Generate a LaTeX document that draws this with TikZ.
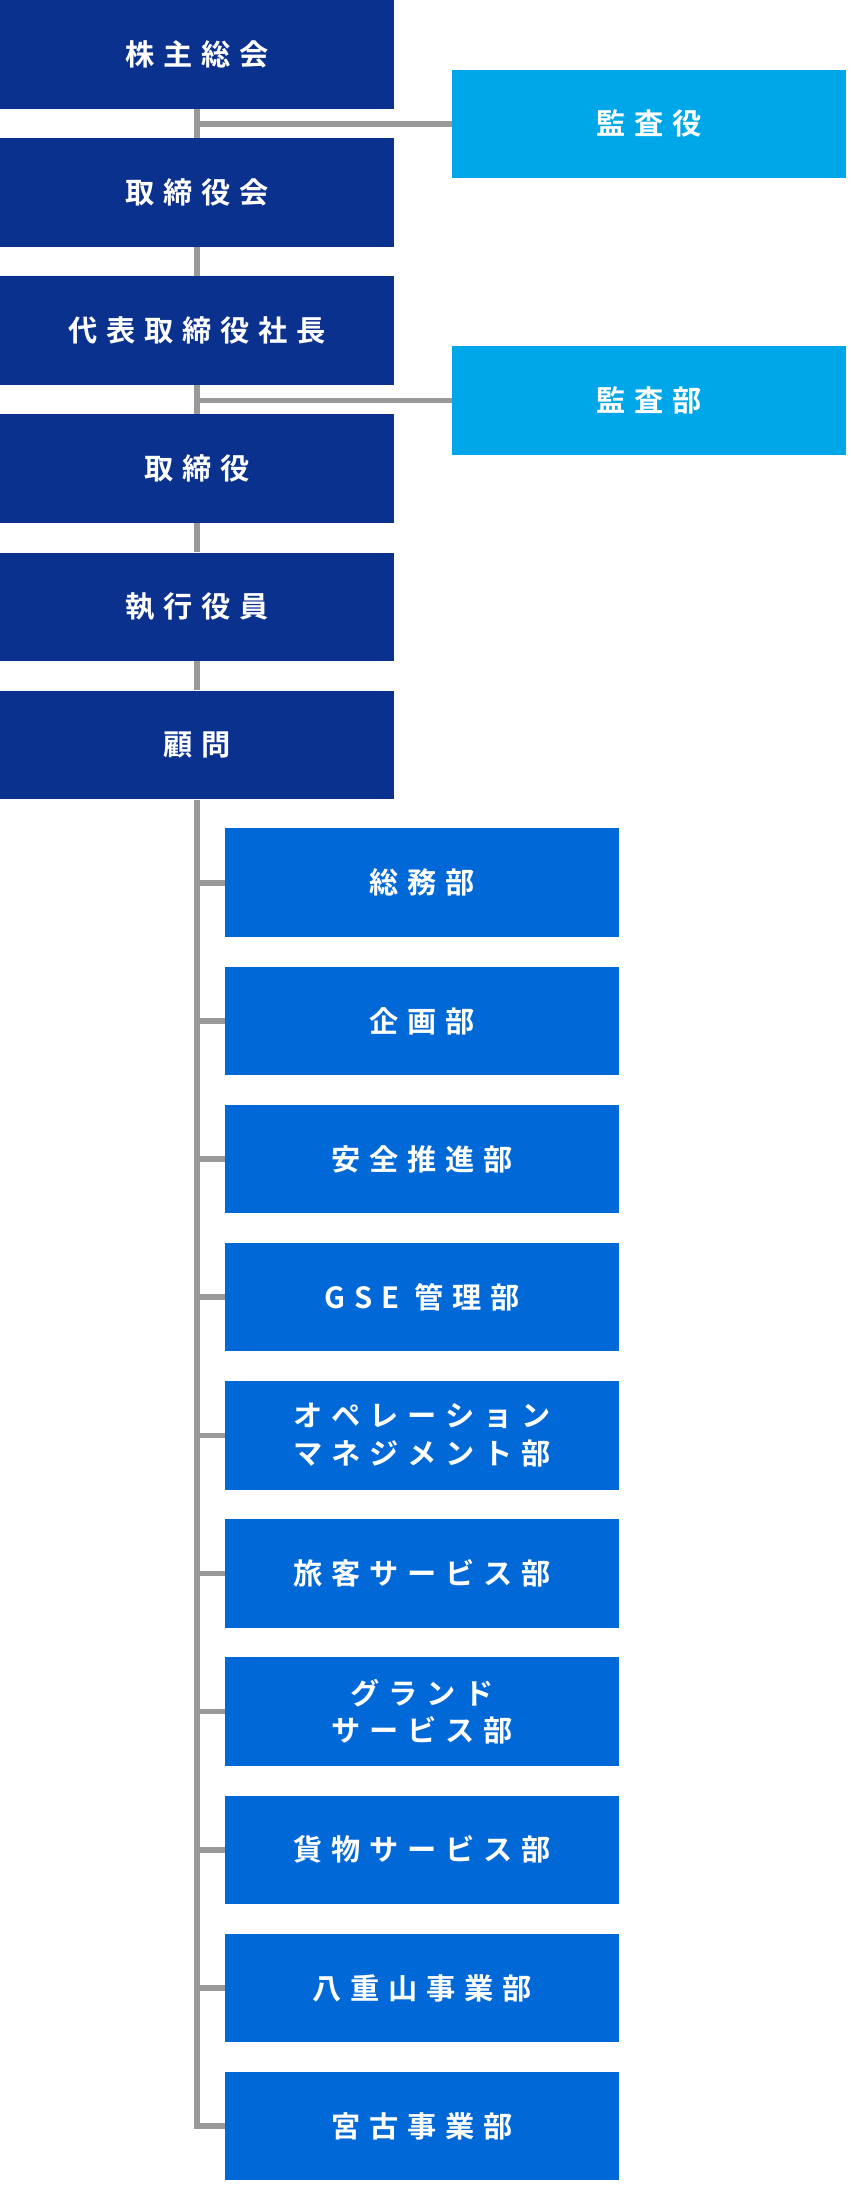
\documentclass[tikz,border=0pt]{standalone}
\usepackage{fontspec}
\newfontfamily\cjk[LetterSpace=30]{Noto Sans CJK JP Bold}
\usepackage{tikz}
\definecolor{boardblue}{HTML}{0B318F}
\definecolor{auditblue}{HTML}{00A7E8}
\definecolor{deptblue}{HTML}{0068D7}
\definecolor{linegray}{HTML}{999999}
\begin{document}
\begin{tikzpicture}[x=1pt,y=-1pt]
   \tikzstyle{every node}=[font=\cjk\fontsize{21}{27}\selectfont,text=white,align=center,inner sep=0pt,minimum width=283pt,minimum height=78pt]
   \tikzstyle{board}=[fill=boardblue]
   \tikzstyle{audit}=[fill=auditblue]
   \tikzstyle{dept}=[fill=deptblue]
   \tikzstyle{link}=[draw=linegray,line width=4pt]
   \useasboundingbox (0,0) rectangle (611,1572);
   %%
   \begin{scope}
      \node[board](GM) at (141.5,39) {株主総会};
      \node[board](BD) at (141.5,138.3) {取締役会};
      \node[board](PR) at (141.5,237.6) {代表取締役社長};
      \node[board](DR) at (141.5,336.9) {取締役};
      \node[board](EO) at (141.5,436.2) {執行役員};
      \node[board](AD) at (141.5,535.5) {顧問};
      \node[audit](AU) at (466.5,89) {監査役};
      \node[audit](AR) at (466.5,288) {監査部};
   \end{scope}
   %%
   \begin{scope}
      \node[dept](D1) at (303.5,634.5) {総務部};
      \node[dept](D2) at (303.5,733.8) {企画部};
      \node[dept](D3) at (303.5,833.1) {安全推進部};
      \node[dept](D4) at (303.5,932.4) {GSE 管理部};
      \node[dept](D5) at (303.5,1031.7) {オペレーション\\マネジメント部};
      \node[dept](D6) at (303.5,1131) {旅客サービス部};
      \node[dept](D7) at (303.5,1230.3) {グランド\\サービス部};
      \node[dept](D8) at (303.5,1329.6) {貨物サービス部};
      \node[dept](D9) at (303.5,1428.9) {八重山事業部};
      \node[dept](D10) at (303.5,1528.2) {宮古事業部};
   \end{scope}
   %%
   \begin{scope}[on background layer/.style={}]
      \path[link] (GM.south) -- (BD.north);
      \path[link] (BD.south) -- (PR.north);
      \path[link] (PR.south) -- (DR.north);
      \path[link] (DR.south) -- (EO.north);
      \path[link] (EO.south) -- (AD.north);
      \path[link] (AU.west) -- (AU.west -| GM.south);
      \path[link] (AR.west) -- (AR.west -| GM.south);
      \coordinate (T) at (AD.south);
      \path[link] (T) -- (T |- D10.west) -- (D10.west);
      \foreach \d in {D1,D2,D3,D4,D5,D6,D7,D8,D9}
         \path[link] (T |- \d.west) -- (\d.west);
   \end{scope}
\end{tikzpicture}
\end{document}
